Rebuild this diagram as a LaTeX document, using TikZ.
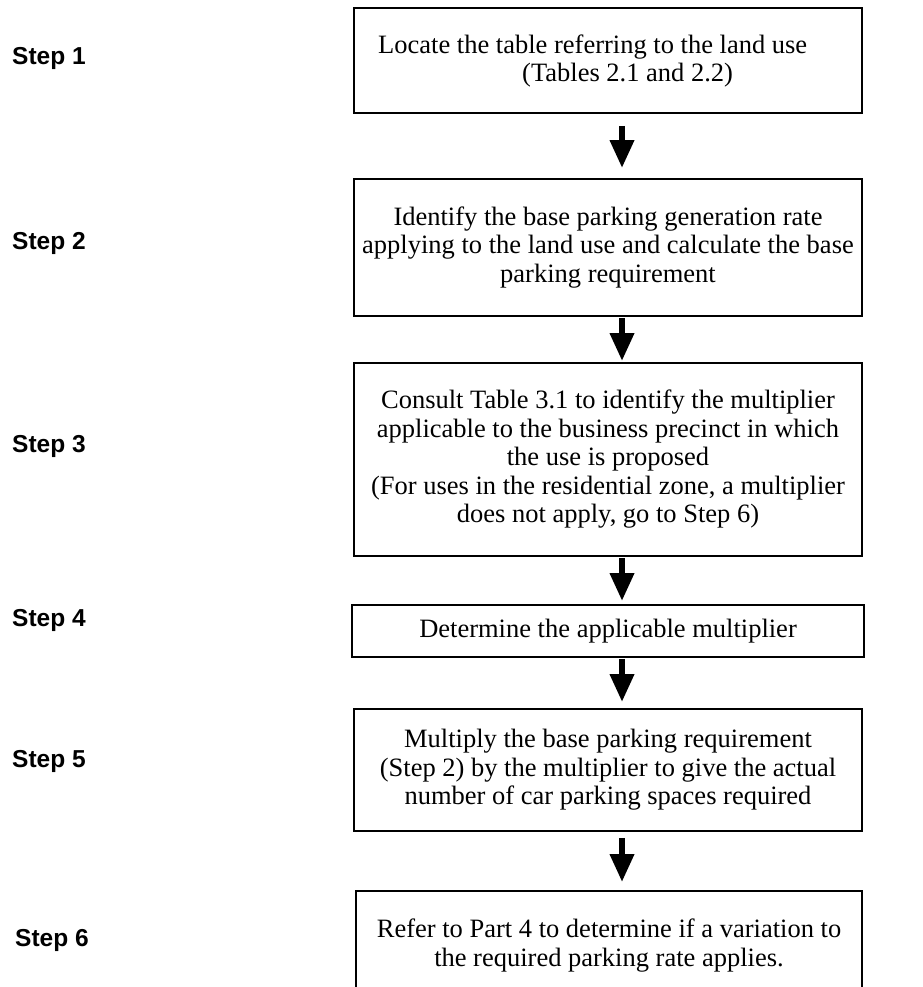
\documentclass[tikz,border=0pt]{standalone}
\usepackage{fontspec}
\setmainfont{Liberation Serif}
\newfontfamily\stepfont{Liberation Sans}
\usetikzlibrary{arrows.meta}
\tikzset{
  box/.style={draw=black, line width=1.8pt, rectangle, inner sep=0pt, align=center,
    font=\fontsize{26.5}{28.5}\selectfont},
  txt/.style={inner sep=0pt, font=\fontsize{26.5}{28.5}\selectfont},
  steplabel/.style={anchor=west, inner sep=0pt, font=\stepfont\bfseries\fontsize{24.5}{28}\selectfont},
  arr/.style={line width=6.5pt, -{Triangle[width=23pt,length=28pt]}}
}
\begin{document}
\begin{tikzpicture}[x=1pt,y=-1pt]
\useasboundingbox (0,0) rectangle (922,987);
\clip (0,0) rectangle (922,987);
% boxes
\node[box, minimum width=508pt, minimum height=105pt] (b1) at (608,60.5) {};
\node[txt, anchor=west, align=left] (t1) at (378,61) {Locate the table referring to the land use\\\hspace*{144pt}(Tables 2.1 and 2.2)};
\node[box, minimum width=508pt, minimum height=137pt] (b2) at (608,247.5)
  {Identify the base parking generation rate\\applying to the land use and calculate the base\\parking requirement};
\node[box, minimum width=508pt, minimum height=193pt] (b3) at (608,459.5)
  {Consult Table 3.1 to identify the multiplier\\applicable to the business precinct in which\\the use is proposed\\(For uses in the residential zone, a multiplier\\does not apply, go to Step 6)};
\node[box, minimum width=512pt, minimum height=52pt] (b4) at (608,631)
  {Determine the applicable multiplier};
\node[box, minimum width=508pt, minimum height=122pt] (b5) at (608,770)
  {Multiply the base parking requirement\\(Step 2) by the multiplier to give the actual\\number of car parking spaces required};
\node[box, minimum width=506pt, minimum height=109pt] (b6) at (609,945.5)
  {Refer to Part 4 to determine if a variation to\\the required parking rate applies.};
% step labels
\node[steplabel] (s1) at (12,58) {Step 1};
\node[steplabel] (s2) at (12,243) {Step 2};
\node[steplabel] (s3) at (12,446) {Step 3};
\node[steplabel] (s4) at (12,620) {Step 4};
\node[steplabel] (s5) at (12,761) {Step 5};
\node[steplabel] (s6) at (15,940) {Step 6};
% arrows
\draw[arr, shorten <=12pt, shorten >=10pt] ([xshift=14pt]b1.south) -- ([xshift=14pt]b1.south |- b2.north);
\draw[arr, shorten <=1pt, shorten >=1pt] ([xshift=14pt]b2.south) -- ([xshift=14pt]b2.south |- b3.north);
\draw[arr, shorten <=1pt, shorten >=3pt] ([xshift=14pt]b3.south) -- ([xshift=14pt]b3.south |- b4.north);
\draw[arr, shorten <=1pt, shorten >=6pt] ([xshift=14pt]b3.south |- b4.south) -- ([xshift=14pt]b5.north);
\draw[arr, shorten <=6pt, shorten >=8pt] ([xshift=14pt]b5.south) -- ([xshift=14pt]b5.south |- b6.north);
\end{tikzpicture}
\end{document}
